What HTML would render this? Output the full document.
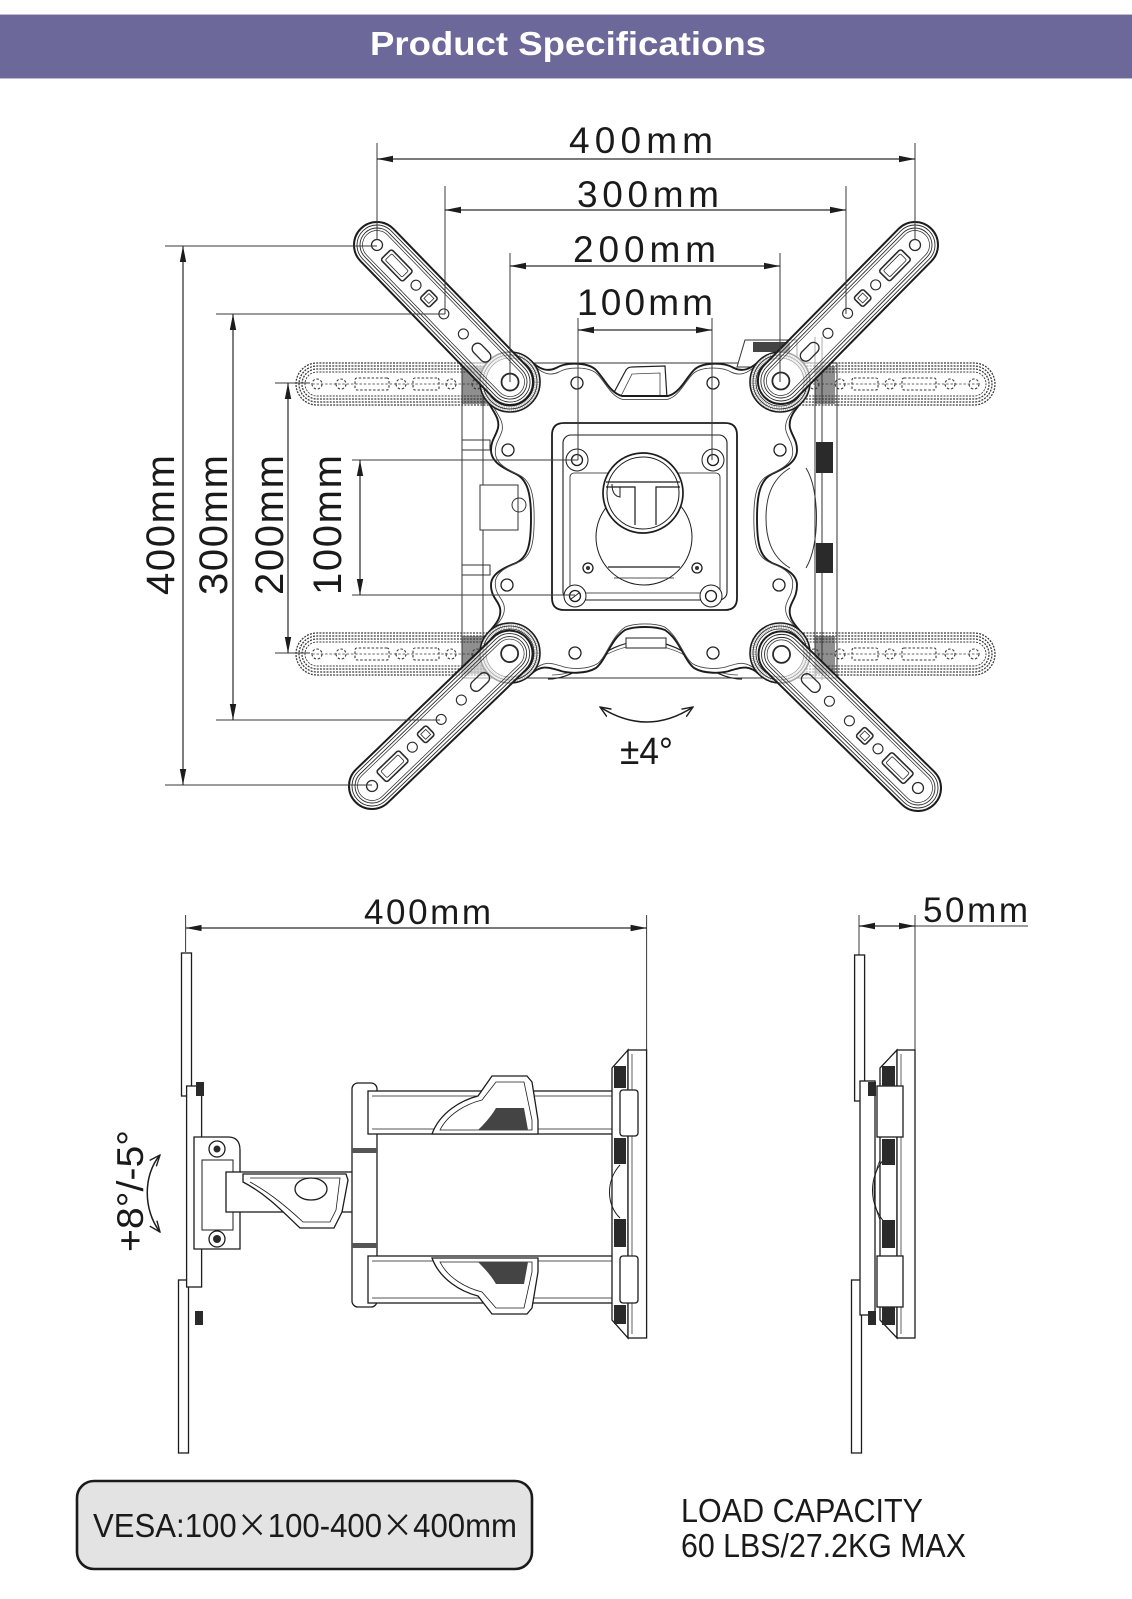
<!DOCTYPE html>
<html><head><meta charset="utf-8"><title>Product Specifications</title>
<style>
html,body{margin:0;padding:0;background:#fff;width:1132px;height:1599px;overflow:hidden}
svg{display:block}
</style></head><body>
<svg xmlns="http://www.w3.org/2000/svg" width="1132" height="1599" viewBox="0 0 1132 1599" font-family="'Liberation Sans', Arial, sans-serif">
<defs>
<marker id="ah" viewBox="0 0 16 8" refX="16" refY="4" markerWidth="16" markerHeight="8" markerUnits="userSpaceOnUse" orient="auto-start-reverse"><path d="M0,0.8 L16,4 L0,7.2 Z" fill="#1c1c1c"/></marker>
<marker id="ch" viewBox="0 0 12 10" refX="11" refY="5" markerWidth="12" markerHeight="10" markerUnits="userSpaceOnUse" orient="auto-start-reverse"><path d="M0,0.5 L11,5 L0,9.5" fill="none" stroke="#1c1c1c" stroke-width="1.4"/></marker>
<g id="arm">
 <rect x="-23" y="-23" width="237" height="46" rx="23" fill="#fff" fill-opacity="0.6" stroke="#1c1c1c" stroke-width="2"/>
 <g fill="none" stroke="#2a2a2a">
  <rect x="-20" y="-20" width="231" height="40" rx="20" stroke-width="0.9"/>
  <rect x="-17" y="-17" width="225" height="34" rx="17" stroke-width="0.9"/>
  <rect x="-14.5" y="-14.5" width="220" height="29" rx="14.5" stroke-width="0.7"/>
  <circle cx="0" cy="0" r="5.5" stroke-width="1.3"/>
  <rect x="13" y="-7.5" width="31" height="15" rx="2.5" stroke-width="1.6"/>
  <rect x="16.5" y="-4.5" width="24" height="9" rx="1.5" stroke-width="0.8"/>
  <circle cx="56" cy="0" r="5" stroke-width="1.1"/>
  <rect x="68" y="-6.5" width="13" height="13" rx="2.5" stroke-width="1.6"/>
  <rect x="71" y="-3.5" width="7" height="7" stroke-width="0.8"/>
  <circle cx="96" cy="0" r="5" stroke-width="1.1"/>
  <circle cx="124" cy="0" r="5" stroke-width="1.1"/>
  <rect x="139" y="-5.5" width="22" height="11" rx="5.5" stroke-width="1.3"/>
  <circle cx="191" cy="0" r="8.5" stroke-width="1.8"/>
 </g>
</g>
<g id="darm" fill="none" stroke="#3a3a3a" stroke-width="1.3" stroke-dasharray="2 1.2">
 <path d="M0,-21H174A21,21 0 0 1 174,21H0"/>
 <path d="M0,-18H174A18,18 0 0 1 174,18H0"/>
 <path d="M0,-15H174A15,15 0 0 1 174,15H0"/>
 <path d="M0,-12H174A12,12 0 0 1 174,12H0" stroke-width="0.9"/>
 <g stroke-width="1.1" stroke-dasharray="2.5 1.8">
  <line x1="0" y1="0" x2="178" y2="0" stroke-width="0.7"/>
  <circle cx="14" cy="0" r="5"/>
  <circle cx="40" cy="0" r="5"/>
  <rect x="52" y="-6" width="26" height="12" rx="2"/>
  <circle cx="90" cy="0" r="5"/>
  <rect x="102" y="-6" width="34" height="12" rx="2"/>
  <circle cx="150" cy="0" r="5"/>
  <circle cx="174" cy="0" r="5"/>
 </g>
</g>
<path id="platep" d="M531,361 C540,370 548,372 556,368 C566,362 588,362 596,370 C604,378 610,393 622,396 L668,396 C680,393 686,378 694,370 C702,362 724,362 734,368 C742,372 750,370 759,361 A30,30 0 0 1 801,403 C795,410 788,418 790,428 C792,436 797,440 797,450 C797,462 785,468 772,474 C760,480 757,495 757,518 C757,545 760,557 772,563 C785,568 797,574 797,585 C797,597 792,600 790,608 C788,618 795,625 801,632 A30,30 0 0 1 759,674 C748,664 740,668 732,670 C722,674 704,674 694,668 C684,660 680,640 665,630 C655,626 635,626 625,630 C610,640 606,660 596,668 C586,674 568,674 558,670 C550,668 542,664 531,674 A30,30 0 0 1 489,632 C495,625 502,618 500,608 C498,600 491,597 491,585 C491,574 503,568 516,563 C528,557 531,545 531,518 C531,495 528,480 516,474 C503,468 491,462 491,450 C491,440 496,436 498,428 C500,418 493,412 489,403 A30,30 0 0 1 531,361 Z"/>
</defs>

<!-- Banner -->
<rect x="0" y="14" width="1132" height="65" fill="#6c699a"/>
<line x1="0" y1="14.5" x2="1132" y2="14.5" stroke="#bdbad2" stroke-width="1"/>
<line x1="0" y1="78.5" x2="1132" y2="78.5" stroke="#bdbad2" stroke-width="1"/>
<text x="370" y="55" font-size="33" font-weight="bold" fill="#fff" textLength="396" lengthAdjust="spacingAndGlyphs">Product Specifications</text>

<!-- ============ TOP FRONT VIEW ============ -->
<g fill="none" stroke="#333" stroke-width="1">
 <rect x="462" y="363" width="375" height="315"/>
 <line x1="483" y1="390" x2="483" y2="660"/>
 <line x1="815" y1="337" x2="815" y2="680"/>
 <line x1="822" y1="337" x2="822" y2="680"/>
 <path d="M790,468 C770,480 766,500 766,518 C766,536 770,556 790,568"/>
 <path d="M806,468 C820,490 820,545 806,568"/>
 <rect x="462" y="440" width="28" height="10"/>
 <rect x="462" y="565" width="28" height="10"/>
 <rect x="480" y="485" width="38" height="45" fill="#fff"/>
 <circle cx="519" cy="505" r="7"/>
 <path d="M737,367 L745,340 L797,340 L797,367 Z" fill="#fff"/>
</g>
<rect x="753" y="342" width="37" height="10" fill="#444"/>
<rect x="816" y="442" width="17" height="31" fill="#2a2a2a"/>
<rect x="816" y="543" width="17" height="30" fill="#2a2a2a"/>

<use href="#darm" transform="translate(491,384) scale(-1,1)"/>
<use href="#darm" transform="translate(800,384)"/>
<use href="#darm" transform="translate(491,654) scale(-1,1)"/>
<use href="#darm" transform="translate(800,654)"/>
<g fill="#333" opacity="0.55">
 <rect x="462" y="366" width="26" height="38"/>
 <rect x="462" y="636" width="26" height="38"/>
 <rect x="815" y="366" width="20" height="38"/>
 <rect x="815" y="636" width="20" height="38"/>
</g>

<path d="M611,398 L626,370 Q628,367 632,367 L665,366 L667,398 Z" fill="#fff" stroke="#222" stroke-width="1.2"/>
<path d="M620,398 L632,374 L660,373 L660,398" fill="none" stroke="#444" stroke-width="0.8"/>
<path d="M548,679 C585,679 600,641 645,641 C690,641 705,679 742,679" fill="none" stroke="#222" stroke-width="1.2"/>
<path d="M552,675 C588,675 602,645 645,645 C688,645 702,675 738,675" fill="none" stroke="#555" stroke-width="0.8"/>
<rect x="626" y="638" width="40" height="10" fill="#fff" stroke="#222" stroke-width="1"/>

<!-- plate -->
<use href="#platep" style="fill:#fff;stroke:#1c1c1c;stroke-width:1.9"/>
<use href="#platep" transform="translate(644,518) scale(0.972) translate(-644,-518)" style="fill:none;stroke:#444;stroke-width:0.9"/>

<g fill="#fff" stroke="#222" stroke-width="1.3">
 <circle cx="577" cy="383" r="6"/><circle cx="713" cy="383" r="6"/>
 <circle cx="575" cy="653" r="6"/><circle cx="713" cy="653" r="6"/>
 <circle cx="508" cy="450" r="6"/><circle cx="507" cy="585" r="6"/>
 <circle cx="780" cy="450" r="6"/><circle cx="779" cy="585" r="6"/>
</g>

<g fill="none" stroke="#1c1c1c">
 <path d="M564,423 L725,423 Q737,423 737,435 L737,598 Q737,610 725,610 L564,610 Q552,610 552,598 L552,435 Q552,423 564,423 Z" stroke-width="1.8"/>
 <rect x="563" y="435" width="164" height="165" rx="8" stroke-width="1.1"/>
 <rect x="570" y="473" width="150" height="120" rx="4" stroke-width="0.8"/>
 <circle cx="644" cy="537" r="48" stroke-width="1" fill="#fff"/>
 <line x1="608" y1="567" x2="680" y2="567" stroke-width="1.2"/>
 <line x1="614" y1="578" x2="674" y2="578" stroke-width="0.8"/>
 <circle cx="643" cy="493" r="40" stroke-width="1.7" fill="#fff"/>
 <circle cx="643" cy="493" r="36" stroke-width="1"/>
 <path d="M606,482 L680,482 M606,487 L635,487 L635,525 M656,525 L656,487 L680,487" stroke-width="1.2"/>
 <path d="M612,484 Q612,496 620,497 L620,487" stroke-width="1"/>
</g>
<g fill="#fff" stroke="#1c1c1c">
 <circle cx="577" cy="460" r="11" stroke-width="1"/>
 <circle cx="713" cy="460" r="11" stroke-width="1"/>
 <circle cx="575" cy="596" r="11" stroke-width="1"/>
 <circle cx="711" cy="596" r="11" stroke-width="1"/>
 <circle cx="577" cy="460" r="5.5" stroke-width="1.3"/>
 <circle cx="713" cy="460" r="5.5" stroke-width="1.3"/>
 <circle cx="575" cy="596" r="5.5" stroke-width="1.3"/>
 <circle cx="711" cy="596" r="5.5" stroke-width="1.3"/>
 <circle cx="588" cy="568" r="5" stroke-width="1.3"/>
 <circle cx="697" cy="568" r="5" stroke-width="1.3"/>
</g>
<line x1="571" y1="599" x2="579" y2="593" stroke="#222" stroke-width="1"/>
<circle cx="588" cy="568" r="2" fill="#333"/><circle cx="697" cy="568" r="2" fill="#333"/>

<!-- bosses -->
<g fill="#fff" stroke="#1c1c1c" stroke-width="1.6">
 <circle cx="510" cy="382" r="30"/><circle cx="780" cy="382" r="30"/>
 <circle cx="510" cy="653" r="30"/><circle cx="780" cy="653" r="30"/>
</g>
<g fill="none" stroke="#888" stroke-width="5" stroke-dasharray="0.8 1" opacity="0.7">
 <circle cx="510" cy="382" r="26.5"/><circle cx="780" cy="382" r="26.5"/>
 <circle cx="510" cy="653" r="26.5"/><circle cx="780" cy="653" r="26.5"/>
</g>
<g fill="none" stroke="#222" stroke-width="0.8">
 <circle cx="510" cy="382" r="27"/><circle cx="780" cy="382" r="27"/>
 <circle cx="510" cy="653" r="27"/><circle cx="780" cy="653" r="27"/>
 <circle cx="510" cy="382" r="24"/><circle cx="780" cy="382" r="24"/>
 <circle cx="510" cy="653" r="24"/><circle cx="780" cy="653" r="24"/>
</g>

<!-- arms -->
<use href="#arm" transform="translate(377,245) rotate(45.85)"/>
<use href="#arm" transform="translate(915,245) rotate(134.6)"/>
<use href="#arm" transform="translate(372,786) rotate(-43.9)"/>
<use href="#arm" transform="translate(918,788) rotate(-135.6)"/>

<!-- dimensions -->
<g stroke="#3a3a3a" stroke-width="1" fill="none">
 <line x1="377" y1="143" x2="377" y2="240"/>
 <line x1="915" y1="143" x2="915" y2="240"/>
 <line x1="445" y1="186" x2="445" y2="314"/>
 <line x1="846" y1="186" x2="846" y2="314"/>
 <line x1="510" y1="253" x2="510" y2="382"/>
 <line x1="780" y1="253" x2="780" y2="382"/>
 <line x1="578" y1="318" x2="578" y2="460"/>
 <line x1="712" y1="318" x2="712" y2="460"/>
 <line x1="165" y1="246" x2="377" y2="246"/>
 <line x1="165" y1="785" x2="372" y2="785"/>
 <line x1="216" y1="314" x2="445" y2="314"/>
 <line x1="216" y1="720" x2="440" y2="720"/>
 <line x1="275" y1="383" x2="310" y2="383"/>
 <line x1="275" y1="653" x2="310" y2="653"/>
 <line x1="352" y1="460" x2="578" y2="460"/>
 <line x1="352" y1="595" x2="575" y2="595"/>
</g>
<g stroke="#2a2a2a" stroke-width="1.2" fill="none">
 <line x1="377" y1="159" x2="915" y2="159" marker-start="url(#ah)" marker-end="url(#ah)"/>
 <line x1="445" y1="210" x2="846" y2="210" marker-start="url(#ah)" marker-end="url(#ah)"/>
 <line x1="510" y1="266" x2="780" y2="266" marker-start="url(#ah)" marker-end="url(#ah)"/>
 <line x1="578" y1="330" x2="712" y2="330" marker-start="url(#ah)" marker-end="url(#ah)"/>
 <line x1="183" y1="246" x2="183" y2="785" marker-start="url(#ah)" marker-end="url(#ah)"/>
 <line x1="233" y1="314" x2="233" y2="720" marker-start="url(#ah)" marker-end="url(#ah)"/>
 <line x1="288" y1="383" x2="288" y2="653" marker-start="url(#ah)" marker-end="url(#ah)"/>
 <line x1="360" y1="460" x2="360" y2="595" marker-start="url(#ah)" marker-end="url(#ah)"/>
</g>
<g fill="#1a1a1a" font-size="37">
 <text x="569" y="153" textLength="144" lengthAdjust="spacing">400mm</text>
 <text x="577" y="207" textLength="142" lengthAdjust="spacing">300mm</text>
 <text x="573" y="262" textLength="143" lengthAdjust="spacing">200mm</text>
 <text x="577" y="315" textLength="136" lengthAdjust="spacing">100mm</text>
</g>
<g fill="#1a1a1a" font-size="40">
 <text transform="translate(174,595) rotate(-90)" textLength="140" lengthAdjust="spacing">400mm</text>
 <text transform="translate(227,595) rotate(-90)" textLength="140" lengthAdjust="spacing">300mm</text>
 <text transform="translate(283,595) rotate(-90)" textLength="140" lengthAdjust="spacing">200mm</text>
 <text transform="translate(341,595) rotate(-90)" textLength="140" lengthAdjust="spacing">100mm</text>
</g>

<path d="M600,707 Q647,737 693,707" fill="none" stroke="#1c1c1c" stroke-width="1.5" marker-start="url(#ch)" marker-end="url(#ch)"/>
<text x="620" y="764" font-size="38" fill="#1a1a1a" textLength="53" lengthAdjust="spacingAndGlyphs">±4°</text>

<!-- ============ SIDE VIEW ============ -->
<g stroke="#3a3a3a" stroke-width="1" fill="none">
 <line x1="185.6" y1="915" x2="185.6" y2="952"/>
 <line x1="646.6" y1="915" x2="646.6" y2="1050"/>
</g>
<line x1="185.6" y1="928" x2="646.6" y2="928" stroke="#2a2a2a" stroke-width="1.2" marker-start="url(#ah)" marker-end="url(#ah)"/>
<text x="364" y="924" font-size="35" fill="#1a1a1a" textLength="127" lengthAdjust="spacing">400mm</text>

<g fill="#fff" stroke="#1c1c1c" stroke-width="1.3">
 <rect x="181.5" y="953" width="10" height="143"/>
 <rect x="178.5" y="1280" width="10" height="173"/>
 <rect x="186.6" y="1086" width="15" height="201"/>
 <path d="M194,1137 L228,1137 Q240,1137 240,1150 L240,1249 L194,1249 Z"/>
 <rect x="202" y="1160" width="31" height="70" stroke-width="1"/>
 <circle cx="217" cy="1149" r="8"/>
 <circle cx="217" cy="1239" r="8"/>
 <rect x="226" y="1172" width="130" height="40"/>
 <path d="M243,1174 L346,1174 L348,1180 L342,1212 L334,1228 L300,1228 C285,1214 268,1195 243,1182 Z"/>
 <path d="M250,1178 L340,1178 L336,1210 L330,1222 L303,1222 C290,1210 272,1194 250,1182" fill="none" stroke-width="0.8"/>
 <ellipse cx="311" cy="1189" rx="16" ry="11"/>
 <rect x="352" y="1083" width="25" height="224" rx="6"/>
 <rect x="368" y="1091" width="270" height="43"/>
 <line x1="372" y1="1096" x2="634" y2="1096" stroke-width="0.7"/>
 <line x1="372" y1="1129" x2="634" y2="1129" stroke-width="0.7"/>
 <path d="M432,1134 C440,1112 462,1100 478,1096 L492,1076 L527,1076 L532,1082 L538,1120 L538,1134 Z"/>
 <path d="M440,1130 C448,1114 466,1104 482,1100 L496,1082 L524,1082 L532,1120 L532,1130 Z" fill="none" stroke-width="0.8"/>
 <rect x="368" y="1256" width="270" height="47"/>
 <line x1="372" y1="1261" x2="634" y2="1261" stroke-width="0.7"/>
 <line x1="372" y1="1298" x2="634" y2="1298" stroke-width="0.7"/>
 <path d="M432,1258 L538,1258 L538,1272 L532,1308 L527,1314 L492,1314 L478,1296 C462,1292 440,1280 432,1258 Z"/>
 <path d="M440,1262 L532,1262 L532,1272 L524,1308 L496,1308 L482,1292 C466,1288 448,1278 440,1262 Z" fill="none" stroke-width="0.8"/>
 <path d="M628,1050 L612,1068 L612,1320 L628,1338 Z"/>
 <rect x="628" y="1050" width="18.6" height="288"/>
 <line x1="632" y1="1054" x2="632" y2="1334" stroke-width="0.7"/>
 <rect x="620" y="1090" width="18" height="46" rx="3"/>
 <rect x="620" y="1256" width="18" height="47" rx="3"/>
 <path d="M620,1165 C606,1180 606,1205 620,1218" fill="none" stroke-width="1"/>
</g>
<g fill="#2a2a2a">
 <rect x="196" y="1082" width="8" height="14"/>
 <rect x="195" y="1311" width="8" height="14"/>
 <circle cx="217" cy="1149" r="3.5"/>
 <circle cx="217" cy="1239" r="4"/>
 <rect x="352" y="1148" width="25" height="5" fill="#555"/>
 <rect x="352" y="1243" width="25" height="5" fill="#555"/>
 <path d="M478,1130 L528,1130 L524,1108 L496,1108 C490,1118 484,1124 478,1130 Z" fill="#444"/>
 <path d="M478,1262 L528,1262 L524,1284 L496,1284 C490,1274 484,1268 478,1262 Z" fill="#444"/>
 <rect x="614" y="1066" width="12" height="22"/>
 <rect x="614" y="1138" width="12" height="26"/>
 <rect x="614" y="1219" width="12" height="28"/>
 <rect x="614" y="1305" width="12" height="19"/>
</g>

<path d="M160,1155 C143,1175 143,1210 160,1232" fill="none" stroke="#1c1c1c" stroke-width="1.5" marker-start="url(#ch)" marker-end="url(#ch)"/>
<text transform="translate(143,1252) rotate(-90)" font-size="37" fill="#1a1a1a" textLength="122" lengthAdjust="spacingAndGlyphs">+8°/-5°</text>

<!-- ============ RIGHT VIEW ============ -->
<g stroke="#3a3a3a" stroke-width="1" fill="none">
 <line x1="859" y1="915" x2="859" y2="958"/>
 <line x1="915" y1="915" x2="915" y2="1050"/>
 <line x1="915" y1="926" x2="1028" y2="926"/>
</g>
<line x1="859" y1="926" x2="915" y2="926" stroke="#2a2a2a" stroke-width="1.2" marker-start="url(#ah)" marker-end="url(#ah)"/>
<text x="923" y="922" font-size="35" fill="#1a1a1a" textLength="105" lengthAdjust="spacing">50mm</text>

<g fill="#fff" stroke="#1c1c1c" stroke-width="1.3">
 <rect x="854.6" y="955" width="10" height="146"/>
 <rect x="851.5" y="1280" width="10" height="173"/>
 <rect x="860" y="1081" width="15" height="234"/>
 <path d="M897,1050 L880,1068 L880,1320 L897,1338 Z"/>
 <rect x="897" y="1050" width="18" height="288"/>
 <line x1="901" y1="1054" x2="901" y2="1334" stroke-width="0.7"/>
 <rect x="877" y="1086" width="26" height="51"/>
 <rect x="877" y="1256" width="26" height="51"/>
 <path d="M886,1157 C868,1175 868,1205 886,1224" fill="none" stroke-width="1"/>
 <path d="M880,1160 C872,1178 872,1202 880,1220" fill="none" stroke-width="0.8"/>
</g>
<g fill="#2a2a2a">
 <rect x="868" y="1082" width="8" height="14"/>
 <rect x="868" y="1311" width="8" height="14"/>
 <rect x="882" y="1066" width="13" height="20"/>
 <rect x="882" y="1139" width="13" height="26"/>
 <rect x="882" y="1220" width="13" height="28"/>
 <rect x="882" y="1307" width="13" height="18"/>
</g>

<!-- ============ BOTTOM ============ -->
<rect x="77" y="1481" width="455" height="88" rx="17" fill="#e3e3e3" stroke="#1a1a1a" stroke-width="2.6"/>
<text x="93" y="1537" font-size="33" fill="#1a1a1a" textLength="424" lengthAdjust="spacingAndGlyphs">VESA:100<tspan font-family="'Noto Sans CJK SC', sans-serif">×</tspan>100-400<tspan font-family="'Noto Sans CJK SC', sans-serif">×</tspan>400mm</text>
<text x="681" y="1522" font-size="33" fill="#1a1a1a" textLength="242" lengthAdjust="spacingAndGlyphs">LOAD CAPACITY</text>
<text x="681" y="1557" font-size="33" fill="#1a1a1a" textLength="285" lengthAdjust="spacingAndGlyphs">60 LBS/27.2KG MAX</text>
</svg>
</body></html>
